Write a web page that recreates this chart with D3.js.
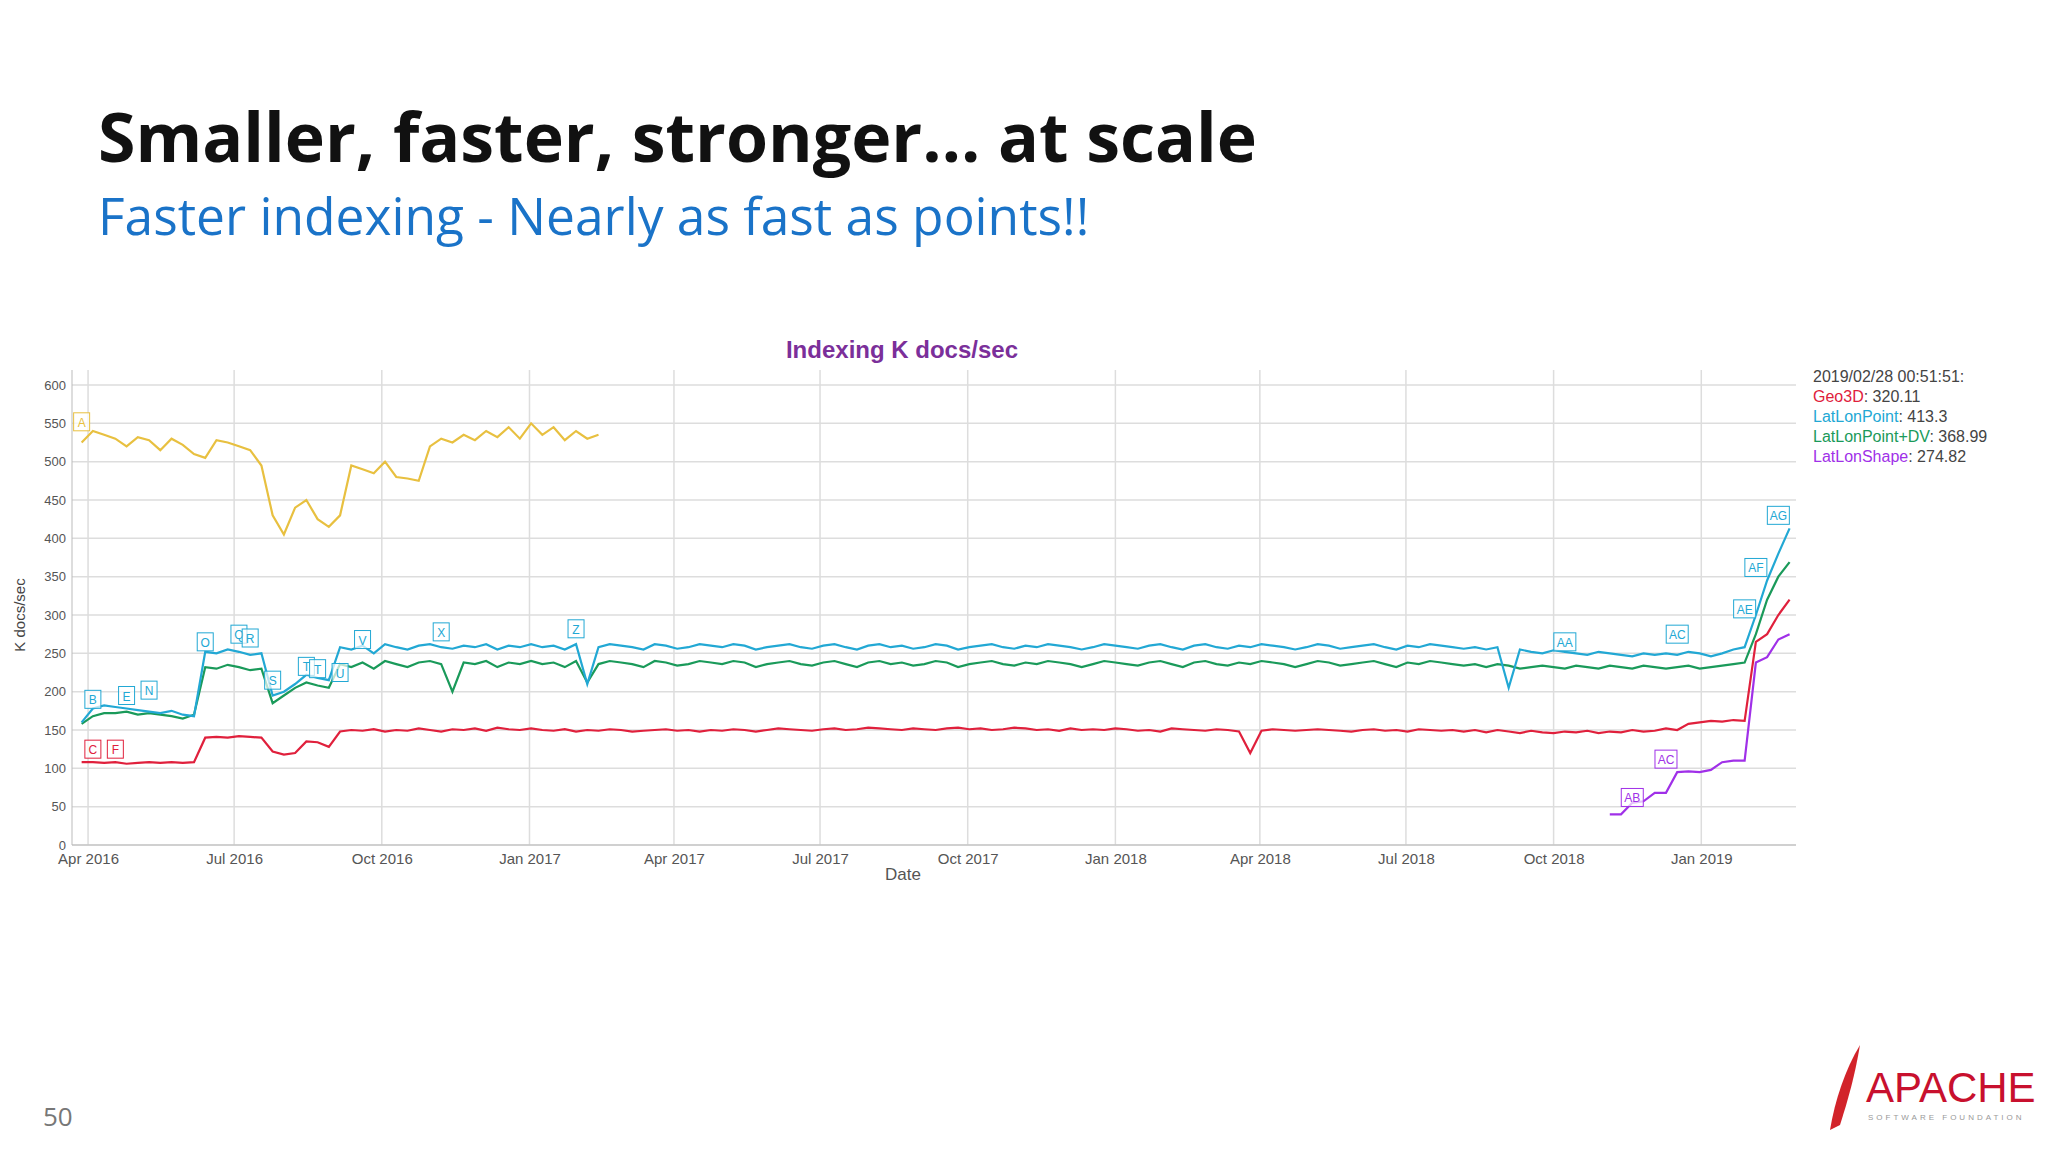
<!DOCTYPE html>
<html><head><meta charset="utf-8">
<script src="https://cdn.jsdelivr.net/npm/d3@7"></script>
<style>body{margin:0;background:#fff}svg{display:block}</style>
</head><body>
<svg id="chart" width="2048" height="1153"></svg>
<script>
// weekly samples, week 0 = 2016-03-28
var startDate = new Date(2016, 2, 28);

var yellowVals = [525,540,535,530,520, 532,528,515,530,522, 510,505,528,525, 520,515,495,430,
  405,440,450,425,415, 430,495,490,485, 500,480,478,475, 520,530,525,535,528,
  540,532,545,530,550, 535,545,528,540,530,535];

var latLonPoint = [160,178,182,180,178,176,174,172,175,170,168,252,250,255,252,248,250,195,200,210,222,218,215,
  258,255,260,250,262,258,255,260,262,258,256,260,258,262,255,260,258,
  262,258,260,255,262,210,258,262,260,258,255,262,260,256,258,262,260,
  258,262,260,255,258,260,262,258,256,260,262,258,255,260,262,258,260,
  256,258,262,260,255,258,260,262,258,256,260,258,262,260,258,255,258,
  262,260,258,256,260,262,258,255,260,262,258,256,260,258,262,260,258,
  255,258,262,260,256,258,260,262,258,255,260,258,262,260,258,256,258,
  255,258,205,255,252,250,254,252,250,248,252,250,248,246,250,248,250,
  248,252,250,246,250,255,258,300,345,380,413];

var latLonPointDV = [158,168,172,172,174,170,172,170,168,165,170,232,230,235,232,228,230,185,195,205,212,208,205,
  236,232,238,230,240,236,232,238,240,236,200,238,236,240,232,238,236,
  240,236,238,232,240,212,236,240,238,236,232,240,238,234,236,240,238,
  236,240,238,232,236,238,240,236,234,238,240,236,232,238,240,236,238,
  234,236,240,238,232,236,238,240,236,234,238,236,240,238,236,232,236,
  240,238,236,234,238,240,236,232,238,240,236,234,238,236,240,238,236,
  232,236,240,238,234,236,238,240,236,232,238,236,240,238,236,234,236,
  232,236,234,230,232,234,232,230,234,232,230,234,232,230,234,232,230,
  232,234,230,232,234,236,238,275,320,350,369];

var geo3D = [108,108,107,108,106,107,108,107,108,107,108,140,141,140,142,141,140,122,118,120,135,134,128,
  148,150,149,151,148,150,149,152,150,148,151,150,152,149,153,151,150,
  152,150,149,151,148,150,149,151,150,148,149,150,151,149,150,148,150,
  149,151,150,148,150,152,151,150,149,151,152,150,151,153,152,151,150,
  152,151,150,152,153,151,152,150,151,153,152,150,151,149,152,150,151,
  150,152,151,149,150,148,152,151,150,149,151,150,148,120,149,151,150,
  149,150,151,150,149,148,150,151,149,150,148,151,150,149,150,148,150,
  147,150,148,146,149,147,146,148,147,149,146,148,147,150,148,149,152,
  150,158,160,162,161,163,162,265,275,300,320];

var latLonShapeStart = 136;
var latLonShape = [40,40,55,57,68,68,95,96,95,98,108,110,110,238,245,268,275];

var seriesNames = ["", "Geo3D", "LatLonPoint", "LatLonPoint+DV", "LatLonShape"];
var seriesColors = ["#e8c040", "#e0203c", "#22a8d4", "#1a9a5a", "#a030e8"];
var legendValues = ["", "320.11", "413.3", "368.99", "274.82"];

// annotation flags: label, week, value, series index
var flagLabels = ["A","B","C","F","E","N","O","Q","R","S","T","T","U","V","X","Z","AA","AC","AE","AF","AG","AB","AC"];
var flagWeeks  = [0,1,1,3,4,6,11,14,15,17,20,21,23,25,32,44,132,142,148,149,151,138,141];
var flagValues = [552,190,125,125,195,202,265,275,270,215,233,230,225,268,278,282,265,275,308,362,430,62,112];
var flagSeries = [0,2,1,1,2,2,2,2,2,2,2,2,2,2,2,2,2,2,2,2,2,4,4];

var yTicks = d3.range(0, 601, 50);

var svg = d3.select("#chart");
var margin = {left: 72, right: 1796, top: 385, bottom: 845};

function weekDate(i) { return d3.timeDay.offset(startDate, i * 7); }

var x = d3.scaleTime().domain([new Date(2016, 2, 22), new Date(2019, 2, 1)]).range([margin.left, margin.right]);
var y = d3.scaleLinear().domain([0, 600]).range([margin.bottom, margin.top]);

// slide title
svg.append("text").attr("x", 98).attr("y", 162).attr("font-family", "Open Sans").attr("font-weight", 700)
  .attr("font-size", 68).attr("fill", "#111").text("Smaller, faster, stronger… at scale");
svg.append("text").attr("x", 98).attr("y", 235).attr("font-family", "Open Sans")
  .attr("font-size", 51.5).attr("fill", "#1a73c8").text("Faster indexing - Nearly as fast as points!!");
svg.append("text").attr("x", 43).attr("y", 1126).attr("font-family", "Open Sans")
  .attr("font-size", 26).attr("fill", "#777").text("50");

// grid
var g = svg.append("g");
g.selectAll(".hg").data(yTicks).enter().append("line")
  .attr("x1", margin.left).attr("x2", margin.right)
  .attr("y1", d => y(d)).attr("y2", d => y(d)).attr("stroke", "#ddd").attr("stroke-width", 1.5);
var xTicks = d3.timeMonth.every(3).range(new Date(2016, 3, 1), new Date(2019, 1, 2));
g.selectAll(".vg").data(xTicks).enter().append("line")
  .attr("x1", d => x(d)).attr("x2", d => x(d))
  .attr("y1", margin.top - 15).attr("y2", margin.bottom).attr("stroke", "#ddd").attr("stroke-width", 1.5);
g.append("line").attr("x1", margin.left).attr("x2", margin.left).attr("y1", margin.top - 15).attr("y2", margin.bottom).attr("stroke", "#bbb");
g.append("line").attr("x1", margin.left).attr("x2", margin.right).attr("y1", margin.bottom).attr("y2", margin.bottom).attr("stroke", "#bbb");

// axes
var yAxis = d3.axisLeft(y).tickValues(yTicks).tickSize(0).tickPadding(6);
svg.append("g").attr("transform", `translate(${margin.left},0)`).call(yAxis)
  .call(a => a.select(".domain").remove())
  .selectAll("text").attr("font-family", "Liberation Sans").attr("font-size", 13).attr("fill", "#555");
var xAxis = d3.axisBottom(x).tickValues(xTicks).tickSize(0).tickPadding(8).tickFormat(d3.timeFormat("%b %Y"));
svg.append("g").attr("transform", `translate(0,${margin.bottom})`).call(xAxis)
  .call(a => a.select(".domain").remove())
  .selectAll("text").attr("font-family", "Liberation Sans").attr("font-size", 15).attr("fill", "#555");

svg.append("text").attr("x", 903).attr("y", 880).attr("text-anchor", "middle")
  .attr("font-family", "Liberation Sans").attr("font-size", 17).attr("fill", "#555").text("Date");
svg.append("text").attr("transform", "translate(25,615) rotate(-90)").attr("text-anchor", "middle")
  .attr("font-family", "Liberation Sans").attr("font-size", 15).attr("fill", "#444").text("K docs/sec");
svg.append("text").attr("x", 902).attr("y", 358).attr("text-anchor", "middle")
  .attr("font-family", "Liberation Sans").attr("font-weight", 700).attr("font-size", 24)
  .attr("fill", "#7b2f9a").text("Indexing K docs/sec");

// lines
var line = d3.line().x(d => x(d[0])).y(d => y(d[1]));
function toPts(vals, off) { return vals.map((v, i) => [weekDate(i + off), v]); }
var allSeries = [toPts(yellowVals, 0), toPts(geo3D, 0), toPts(latLonPoint, 0), toPts(latLonPointDV, 0), toPts(latLonShape, latLonShapeStart)];
[0, 3, 2, 1, 4].forEach(function(k) {
  svg.append("path").datum(allSeries[k]).attr("d", line).attr("fill", "none")
    .attr("stroke", seriesColors[k]).attr("stroke-width", 2.2);
});

// flags
flagLabels.forEach(function(lab, i) {
  var cx = x(weekDate(flagWeeks[i])), cy = y(flagValues[i]);
  var w = lab.length > 1 ? 22 : 16;
  var fg = svg.append("g").attr("transform", `translate(${cx},${cy})`);
  fg.append("rect").attr("x", -w / 2).attr("y", -9).attr("width", w).attr("height", 18)
    .attr("fill", "rgba(255,255,255,0.7)").attr("stroke", seriesColors[flagSeries[i]]);
  fg.append("text").attr("text-anchor", "middle").attr("y", 5).attr("font-family", "Liberation Sans")
    .attr("font-size", 12).attr("fill", seriesColors[flagSeries[i]]).text(lab);
});

// legend
var lg = svg.append("g").attr("font-family", "Liberation Sans").attr("font-size", 16);
lg.append("text").attr("x", 1813).attr("y", 382).attr("fill", "#444").text("2019/02/28 00:51:51:");
[1, 2, 3, 4].forEach(function(k, i) {
  var t = lg.append("text").attr("x", 1813).attr("y", 402 + i * 20);
  t.append("tspan").attr("fill", seriesColors[k]).text(seriesNames[k]);
  t.append("tspan").attr("fill", "#444").text(": " + legendValues[k]);
});

// apache logo
var logo = svg.append("g");
logo.append("path").attr("d", "M1830,1130 C1835,1100 1845,1070 1860,1045 C1855,1075 1848,1100 1840,1125 Z").attr("fill", "#d2232a");
logo.append("text").attr("x", 1866).attr("y", 1102).attr("font-family", "Liberation Sans")
  .attr("font-size", 42).attr("fill", "#c8102e").text("APACHE");
logo.append("text").attr("x", 1868).attr("y", 1120).attr("font-family", "Liberation Sans")
  .attr("font-size", 8).attr("fill", "#999").attr("letter-spacing", 3).text("SOFTWARE FOUNDATION");
</script>
</body></html>
